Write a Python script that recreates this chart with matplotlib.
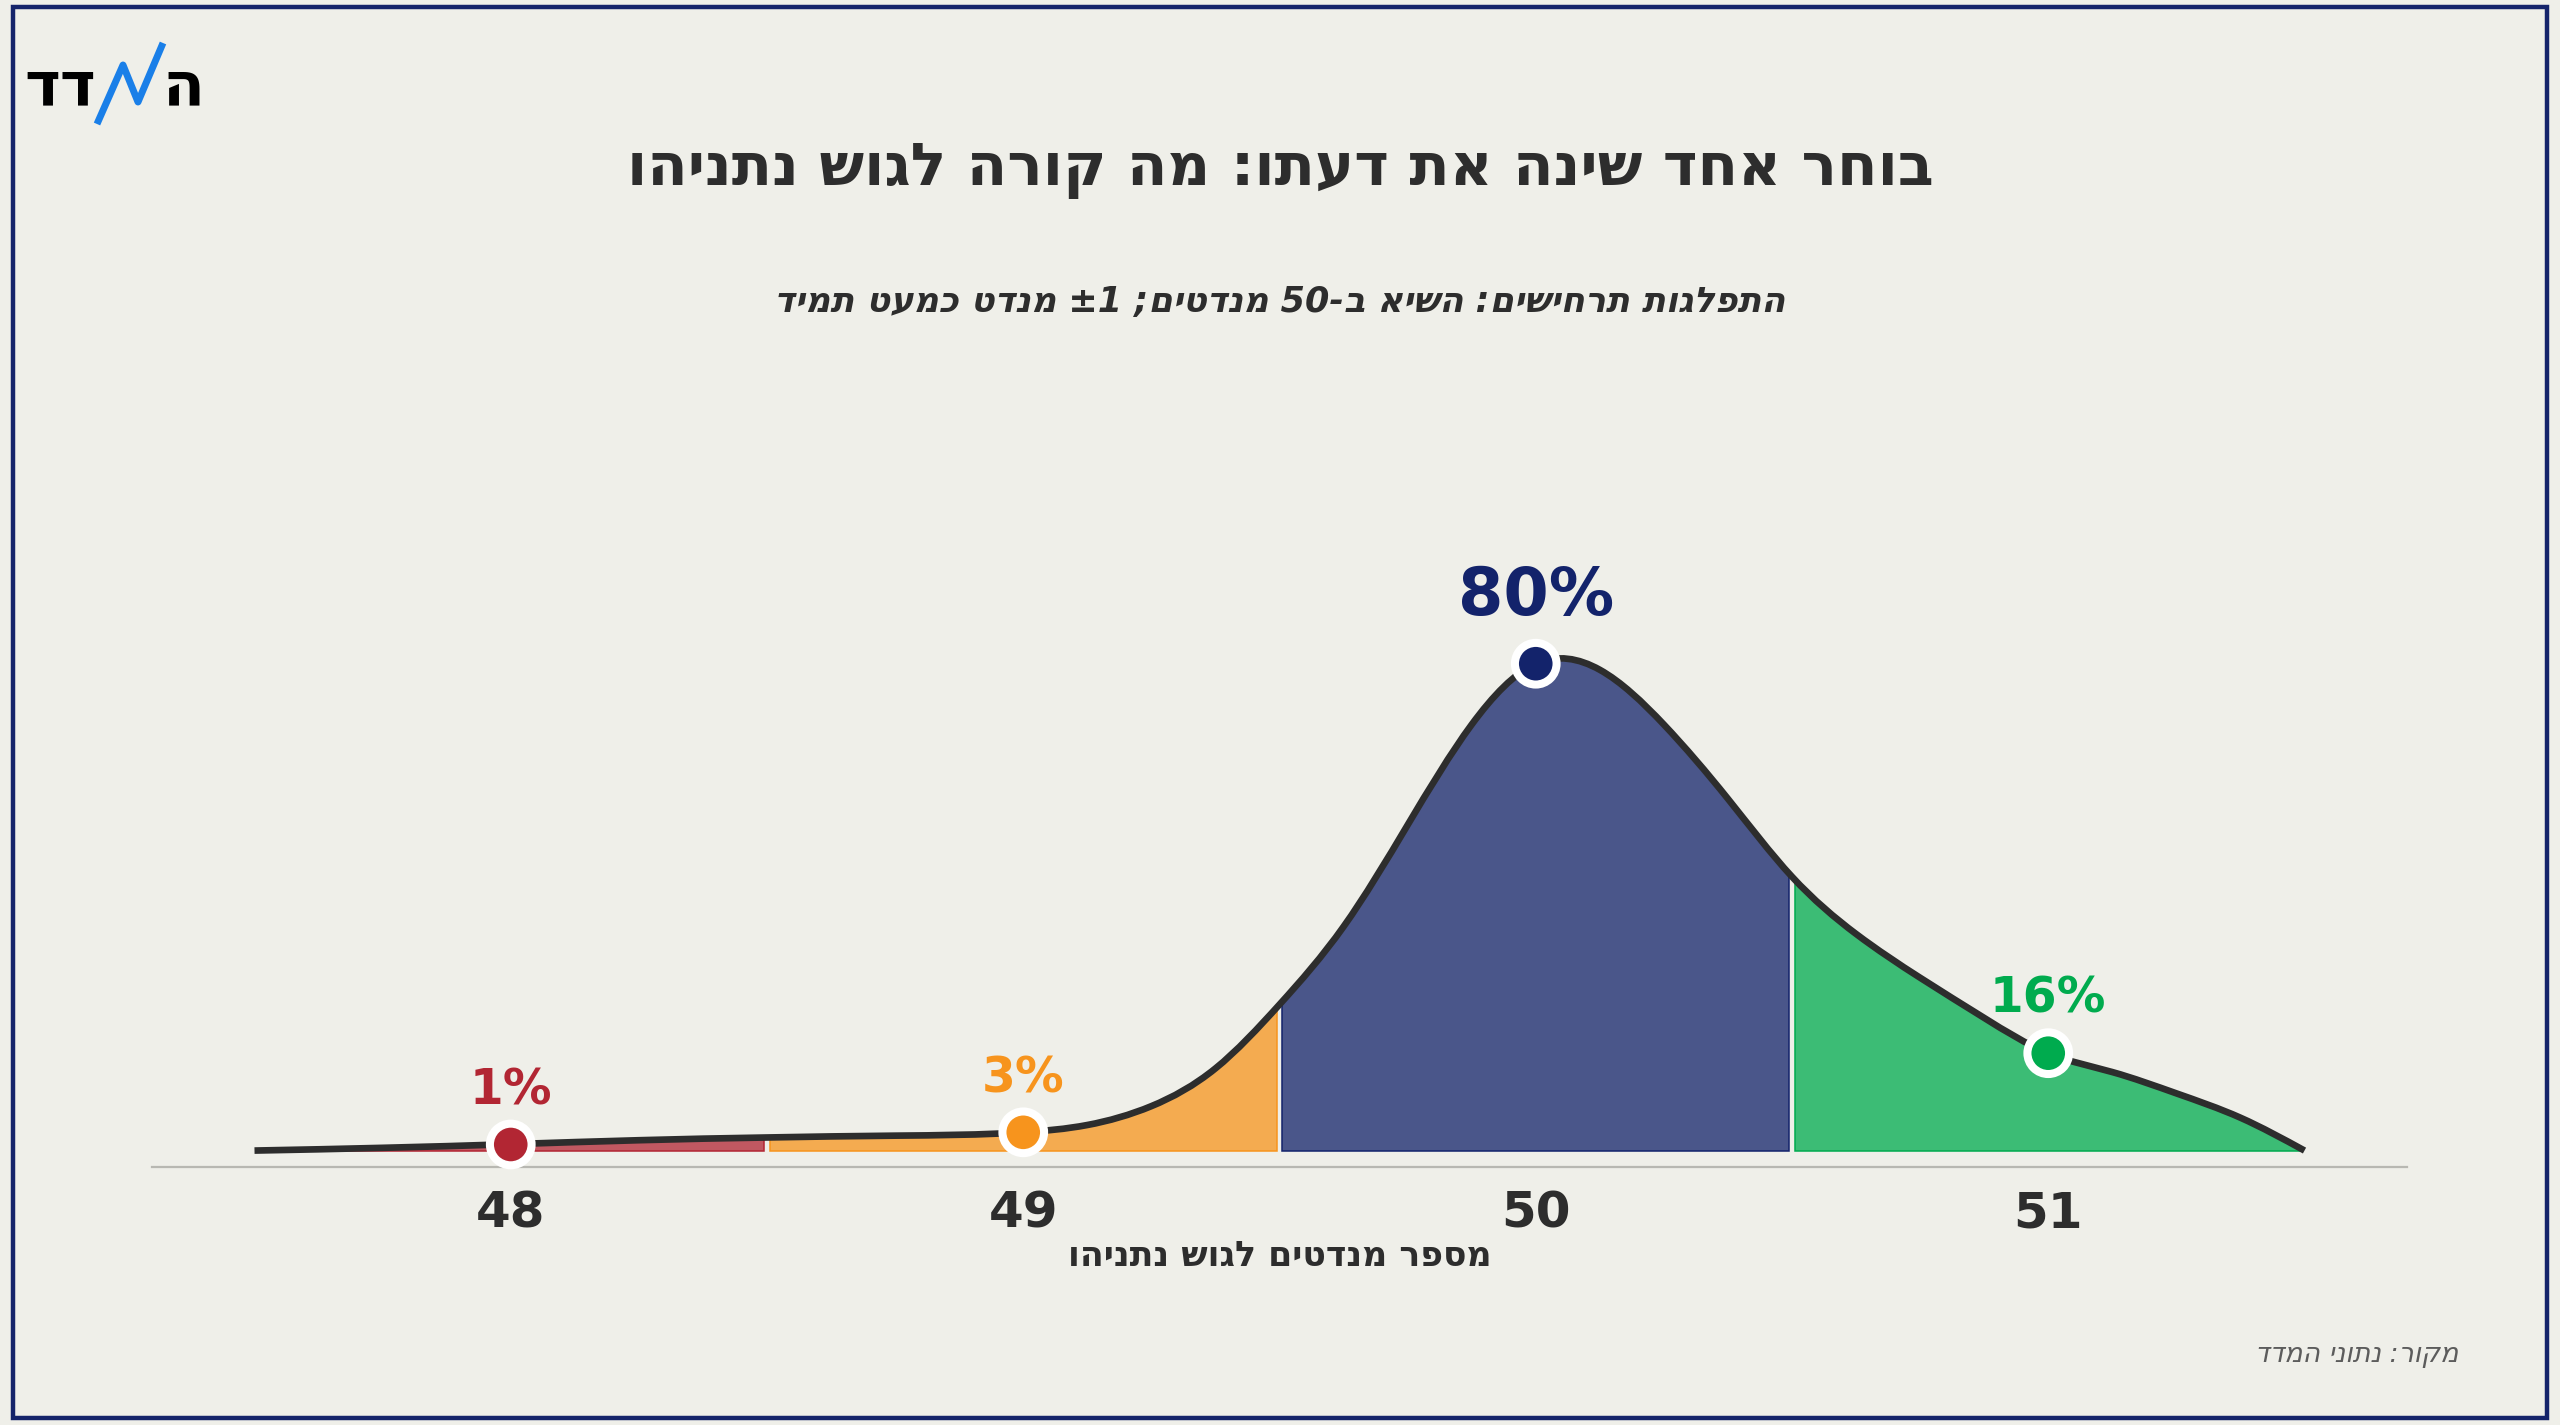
import re

import numpy as np
import matplotlib
matplotlib.use("Agg")
import matplotlib.pyplot as plt
from matplotlib.path import Path
from matplotlib.patches import PathPatch, Rectangle
from matplotlib.lines import Line2D
from matplotlib.colors import to_rgba

plt.rcParams["font.family"] = ["DejaVu Sans"]

# ── data ─────────────────────────────────────────────────────────────
SEATS = [48, 49, 50, 51]
PROBS = [1, 3, 80, 16]                      # % of scenarios
COLORS = ["#b22633", "#f7941d", "#13236b", "#00ab4e"]

# smoothed distribution curve
CURVE_X = [47.5, 47.75, 48.0, 48.25, 48.5, 48.75, 49.0, 49.125, 49.25,
           49.375, 49.5, 49.625, 49.75, 49.875, 50.0, 50.125, 50.25,
           50.375, 50.5, 50.625, 50.75, 50.875, 51.0, 51.125, 51.25,
           51.375, 51.5]
CURVE_Y = [0.0, 0.45, 1.05, 1.7, 2.15, 2.45, 3.0, 4.2, 7.3,
           13.5, 24.0, 36.8, 53.5, 70.0, 80.0, 79.0, 70.0,
           57.8, 45.0, 35.6, 28.4, 21.8, 16.0, 12.9, 9.4,
           5.4, 0.0]

TITLE = "בוחר אחד שינה את דעתו: מה קורה לגוש נתניהו"
SUBTITLE = "התפלגות תרחישים: השיא ב-50 מנדטים; ±1 מנדט כמעט תמיד"
XLABEL = "מספר מנדטים לגוש נתניהו"
SOURCE = "מקור: נתוני המדד"

# ── style ────────────────────────────────────────────────────────────
BG = "#efefe9"
INK = "#2d2d2d"
W, H, DPI = 2560, 1425, 100
Y_BOTTOM, Y_TOP = -2.7, 100


def rtl(s):
    """matplotlib lays text out left to right: hand it the visual order."""
    out = s[::-1]
    return re.sub(r"[0-9±%.]+", lambda m: m.group(0)[::-1], out)


def fx(x):
    return x / W


def fy(y):
    return 1 - y / H


def smooth_path(xs, ys):
    """Natural cubic spline through the points, as Bezier segments."""
    xs = np.asarray(xs, float)
    ys = np.asarray(ys, float)
    n = len(xs)
    h = np.diff(xs)
    d = np.diff(ys) / h
    # second derivatives (natural ends)
    A = np.zeros((n, n))
    r = np.zeros(n)
    A[0, 0] = A[-1, -1] = 1
    for i in range(1, n - 1):
        A[i, i - 1] = h[i - 1]
        A[i, i] = 2 * (h[i - 1] + h[i])
        A[i, i + 1] = h[i]
        r[i] = 6 * (d[i] - d[i - 1])
    M = np.linalg.solve(A, r)
    m = np.empty(n)
    m[:-1] = d - h * (2 * M[:-1] + M[1:]) / 6
    m[-1] = d[-1] + h[-1] * (M[-2] + 2 * M[-1]) / 6
    verts = [(xs[0], ys[0])]
    codes = [Path.MOVETO]
    for i in range(n - 1):
        t = h[i] / 3
        verts += [(xs[i] + t, ys[i] + t * m[i]),
                  (xs[i + 1] - t, ys[i + 1] - t * m[i + 1]),
                  (xs[i + 1], ys[i + 1])]
        codes += [Path.CURVE4] * 3
    return verts, codes


fig = plt.figure(figsize=(W / DPI, H / DPI), dpi=DPI, facecolor=BG)
AX_H = (1167 - 542) / H
ax = fig.add_axes([fx(152), fy(1167), fx(2407 - 152), AX_H])
ax.set_facecolor(BG)
ax.set_xlim(47.3, 51.7)
ax.set_ylim(Y_BOTTOM, Y_TOP)

# curve + area under it
verts, codes = smooth_path(CURVE_X, CURVE_Y)
curve = Path(verts, codes)
area = Path(verts + [(CURVE_X[-1], -0.3), (CURVE_X[0], -0.3), (0, 0)],
            codes + [Path.LINETO, Path.LINETO, Path.CLOSEPOLY])
area_patch = PathPatch(area, facecolor="none", edgecolor="none")
ax.add_patch(area_patch)

# one band per seat count, cut to the curve
bars = ax.bar(SEATS, [Y_TOP] * len(SEATS), width=0.99, bottom=0,
              color=[to_rgba(c, 0.75) for c in COLORS],
              edgecolor=COLORS, linewidth=1.1, zorder=2)
for b in bars:
    b.set_clip_path(area_patch)

ax.add_patch(PathPatch(curve, facecolor="none", edgecolor=INK, lw=4.8,
                       capstyle="butt", zorder=3))

ax.scatter(SEATS, PROBS, s=30 ** 2, c=COLORS, edgecolors="white",
           linewidths=5.8, zorder=4, clip_on=False)

for s, p, c in zip(SEATS, PROBS, COLORS):
    big = p == max(PROBS)
    ax.annotate(f"{p}%", (s, p), xytext=(0, 35 if big else 29),
                textcoords="offset points", ha="center", va="baseline",
                fontsize=47 if big else 35, fontweight="bold", color=c,
                zorder=5)

# axes
for side in ("top", "right", "left"):
    ax.spines[side].set_visible(False)
ax.spines["bottom"].set_color("#b8b8b2")
ax.spines["bottom"].set_linewidth(1.6)
ax.set_yticks([])
ax.set_xticks(SEATS)
ax.set_xticklabels([str(s) for s in SEATS], fontsize=36, fontweight="bold",
                   color=INK)
ax.tick_params(axis="x", length=0, pad=(1228 - 1167) * 72 / DPI)
for lab in ax.get_xticklabels():
    lab.set_va("baseline")

ax.set_xlabel(rtl(XLABEL), fontsize=25, fontweight="bold", color=INK)
ax.xaxis.label.set_va("baseline")
ax.xaxis.set_label_coords(0.5, (fy(1266) - fy(1167)) / AX_H)

# titles
fig.text(0.5, fy(185), rtl(TITLE), ha="center", va="baseline",
         fontsize=42.5, fontweight="bold", color=INK)
fig.text(0.5, fy(311.7), rtl(SUBTITLE), ha="center", va="baseline",
         fontsize=25.2, fontweight="bold", fontstyle="italic", color=INK)
fig.text(fx(2458), fy(1362), rtl(SOURCE), ha="right", va="baseline",
         fontsize=19.4, fontstyle="italic", color="#5c5c5c")

# logo: ה + zigzag + דד
fig.text(fx(24), fy(104), "דד", ha="left", va="baseline",
         fontsize=44, fontweight="bold", color="black")
fig.text(fx(162), fy(104), "ה", ha="left", va="baseline",
         fontsize=44, fontweight="bold", color="black")
zig_x = [97, 123, 138, 163]
zig_y = [124, 65, 102, 43]
fig.add_artist(Line2D([fx(v) for v in zig_x], [fy(v) for v in zig_y],
                      transform=fig.transFigure, color="#1a7fe8", lw=5,
                      solid_joinstyle="round", solid_capstyle="butt"))

# frame
fig.add_artist(Rectangle((fx(13), fy(1418)), fx(2547 - 13), (1418 - 7) / H,
                         transform=fig.transFigure, fill=False,
                         edgecolor="#15246a", lw=3.2))

fig.savefig("out.png", dpi=DPI, facecolor=BG)
